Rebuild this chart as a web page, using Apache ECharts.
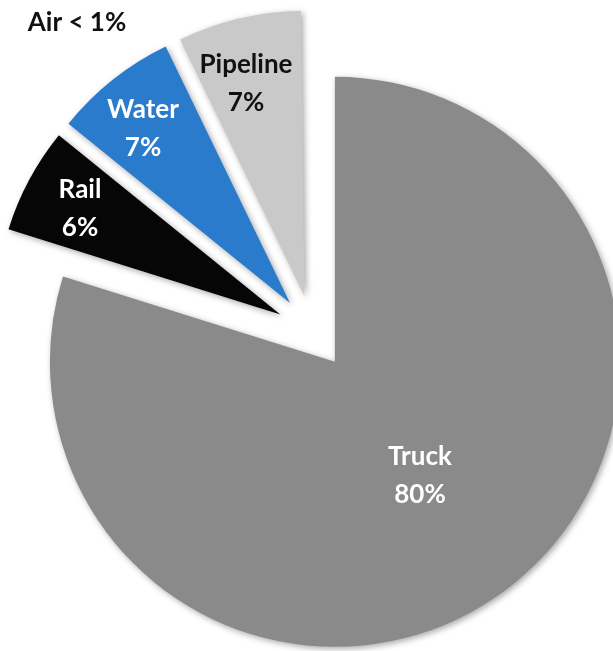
<!DOCTYPE html>
<html>
<head>
<meta charset="utf-8">
<script src="https://cdn.jsdelivr.net/npm/echarts@6/dist/echarts.min.js"></script>
<style>
html,body{margin:0;padding:0;background:#fff;}
#chart{width:613px;height:651px;}
</style>
</head>
<body>
<div id="chart"></div>
<script>
// Data
var categories = ['Truck', 'Rail', 'Water', 'Pipeline', 'Air'];
var shares = [80, 6, 7, 7, 0.2];
var shareLabels = ['80%', '6%', '7%', '7%', '< 1%'];

var colors = ['#8a8a8a', '#060606', '#2a7bcc', '#c9c9c9', 'rgba(255,255,255,0)'];
var labelColors = ['#ffffff', '#ffffff', '#ffffff', '#111111', '#111111'];
var labelPos = [[420, 476], [80, 209], [143, 129], [246, 84], [77, 23]];

var chart = echarts.init(document.getElementById('chart'), null, {renderer: 'canvas'});

var data = categories.map(function (name, i) {
  var item = {
    name: name,
    value: shares[i],
    selected: true,
    itemStyle: {color: colors[i]}
  };
  if (i === 4) {
    item.itemStyle.shadowBlur = 0;
    item.itemStyle.shadowColor = 'rgba(0,0,0,0)';
  }
  return item;
});

var labels = categories.map(function (name, i) {
  return {
    type: 'text',
    x: labelPos[i][0],
    y: labelPos[i][1],
    z: 100,
    silent: true,
    style: {
      text: i === 4 ? name + ' ' + shareLabels[i] : name + '\n' + shareLabels[i],
      fill: labelColors[i],
      font: 'bold 26px Lato',
      lineHeight: 38,
      align: 'center',
      verticalAlign: 'middle'
    }
  };
});

chart.setOption({
  animation: false,
  graphic: labels,
  series: [{
    type: 'pie',
    center: [313, 332],
    radius: [0, 285],
    startAngle: 90,
    clockwise: true,
    selectedMode: 'multiple',
    selectedOffset: 37,
    emphasis: {disabled: true},
    itemStyle: {
      shadowBlur: 6,
      shadowColor: 'rgba(0,0,0,0.35)',
      shadowOffsetX: 2,
      shadowOffsetY: 2
    },
    label: {show: false},
    labelLine: {show: false},
    data: data
  }]
});
</script>
</body>
</html>
